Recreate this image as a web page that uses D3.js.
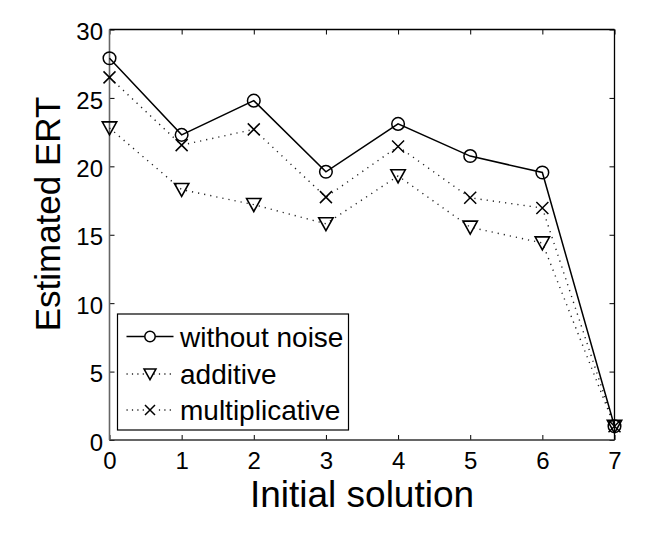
<!DOCTYPE html>
<html><head><meta charset="utf-8">
<script src="https://cdn.jsdelivr.net/npm/d3@7"></script>
<style>body{margin:0;background:#fff}svg{display:block}text{font-family:"Liberation Sans",Arial,Helvetica,sans-serif}</style>
</head><body><svg id="c" width="664" height="540"></svg>
<script>
const xValues = [0,1,2,3,4,5,6,7];
const withoutNoise = [27.9,22.3,24.8,19.6,23.1,20.75,19.55,1.0];
const additive = [22.8,18.3,17.2,15.8,19.3,15.55,14.4,1.0];
const multiplicative = [26.5,21.55,22.7,17.75,21.45,17.7,16.95,1.0];
const xTicks = [0,1,2,3,4,5,6,7];
const yTicks = [0,5,10,15,20,25,30];
const seriesNames = ["without noise","additive","multiplicative"];

const svg = d3.select("#c");
const L=109.5, R=614.5, T=29.5, B=440;
const x = d3.scaleLinear().domain([0,7]).range([L,R]);
const y = d3.scaleLinear().domain([0,30]).range([B,T]);

function styleAxis(g){
  g.select(".domain").remove();
  g.selectAll(".tick line").attr("stroke", "#000").attr("stroke-width",1);
  g.selectAll("text").attr("fill","#000").style("font-size","24px").attr("font-family",'"Liberation Sans",Arial,sans-serif');
}
svg.append("g").attr("transform",`translate(0,${B})`)
  .call(d3.axisBottom(x).tickValues(xTicks).tickSizeInner(-5).tickSizeOuter(0).tickPadding(11.5).tickFormat(d3.format("d")))
  .call(styleAxis);
svg.append("g").attr("transform",`translate(0,${T})`)
  .call(d3.axisTop(x).tickValues(xTicks).tickSizeInner(-5).tickSizeOuter(0).tickFormat(""))
  .call(styleAxis);
svg.append("g").attr("transform",`translate(${L},0)`)
  .call(d3.axisLeft(y).tickValues(yTicks).tickSizeInner(-5).tickSizeOuter(0).tickPadding(6.5).tickFormat(d3.format("d")))
  .call(styleAxis)
  .call(g=>g.selectAll("text").attr("dy","0.42em"));
svg.append("g").attr("transform",`translate(${R},0)`)
  .call(d3.axisRight(y).tickValues(yTicks).tickSizeInner(-5).tickSizeOuter(0).tickFormat(""))
  .call(styleAxis);

svg.append("line").attr("x1",L).attr("x2",R).attr("y1",T).attr("y2",T).attr("stroke","#000").attr("stroke-width",1.3);
svg.append("line").attr("x1",R).attr("x2",R).attr("y1",T).attr("y2",B).attr("stroke","#000").attr("stroke-width",1.3);
svg.append("line").attr("x1",L).attr("x2",R).attr("y1",B).attr("y2",B).attr("stroke","#333").attr("stroke-width",1.5);
svg.append("line").attr("x1",L).attr("x2",L).attr("y1",T).attr("y2",B).attr("stroke","#666").attr("stroke-width",1.6);

function marker(g, type, cx, cy){
  if(type==="o"){
    g.append("circle").attr("cx",cx).attr("cy",cy).attr("r",6.3).attr("fill","none").attr("stroke","#000").attr("stroke-width",1.5);
  } else if(type==="v"){
    const s=7.2;
    g.append("path").attr("d",`M${cx-s},${cy-s*0.85}L${cx+s},${cy-s*0.85}L${cx},${cy+s*0.95}Z`).attr("fill","none").attr("stroke","#000").attr("stroke-width",1.6);
  } else {
    const s=6;
    g.append("path").attr("d",`M${cx-s},${cy-s}L${cx+s},${cy+s}M${cx-s},${cy+s}L${cx+s},${cy-s}`).attr("fill","none").attr("stroke","#000").attr("stroke-width",1.5);
  }
}
const series = [
  {name:seriesNames[0], vals:withoutNoise, m:"o", dash:null},
  {name:seriesNames[1], vals:additive, m:"v", dash:"1.2,5"},
  {name:seriesNames[2], vals:multiplicative, m:"x", dash:"1.2,5"}
];
const line = d3.line().x((d,i)=>x(xValues[i])).y(d=>y(d));
[series[1],series[2],series[0]].forEach(s=>{
  const p = svg.append("path").datum(s.vals).attr("d",line).attr("fill","none")
    .attr("stroke", s.dash? "#222":"#000").attr("stroke-width", s.dash?1.4:1.5);
  if(s.dash) p.attr("stroke-dasharray",s.dash);
});
[series[1],series[2],series[0]].forEach(s=>{
  const g = svg.append("g");
  s.vals.forEach((v,i)=>marker(g,s.m,x(xValues[i]),y(v)));
});

const lg = svg.append("g");
lg.append("rect").attr("x",117.5).attr("y",314).attr("width",231).attr("height",116)
  .attr("fill","#fff").attr("stroke","#000").attr("stroke-width",1.2);
const rowY = [336.5,374,410];
series.forEach((s,i)=>{
  const ly=rowY[i];
  const ln = lg.append("line").attr("x1",126.5).attr("x2",173.5).attr("y1",ly).attr("y2",ly)
    .attr("stroke",s.dash?"#222":"#000").attr("stroke-width",s.dash?1.4:1.5);
  if(s.dash) ln.attr("stroke-dasharray","1.2,4.2");
  const lm = lg.append("g");
  if(s.m==="o"){
    lm.append("circle").attr("cx",150).attr("cy",ly).attr("r",5.2).attr("fill","#fff").attr("stroke","#000").attr("stroke-width",1.5);
  } else if(s.m==="v"){
    const sz=6;
    lm.append("path").attr("d",`M${150-sz},${ly-sz*0.85}L${150+sz},${ly-sz*0.85}L150,${ly+sz*0.95}Z`).attr("fill","#fff").attr("stroke","#000").attr("stroke-width",1.5);
  } else {
    const sz=5;
    lm.append("rect").attr("x",150-sz).attr("y",ly-sz).attr("width",2*sz).attr("height",2*sz).attr("fill","#fff");
    lm.append("path").attr("d",`M${150-sz},${ly-sz}L${150+sz},${ly+sz}M${150-sz},${ly+sz}L${150+sz},${ly-sz}`).attr("stroke","#000").attr("stroke-width",1.5);
  }
  lg.append("text").attr("x",180).attr("y",ly).attr("dy","0.36em").style("font-size","28px").attr("fill","#000").text(s.name);
});

svg.append("text").attr("x",(L+R)/2).attr("y",506.5).attr("text-anchor","middle").style("font-size","37px").text("Initial solution");
svg.append("text").attr("transform","translate(60,214) rotate(-90)").attr("text-anchor","middle").style("font-size","35px").text("Estimated ERT");
</script></body></html>
